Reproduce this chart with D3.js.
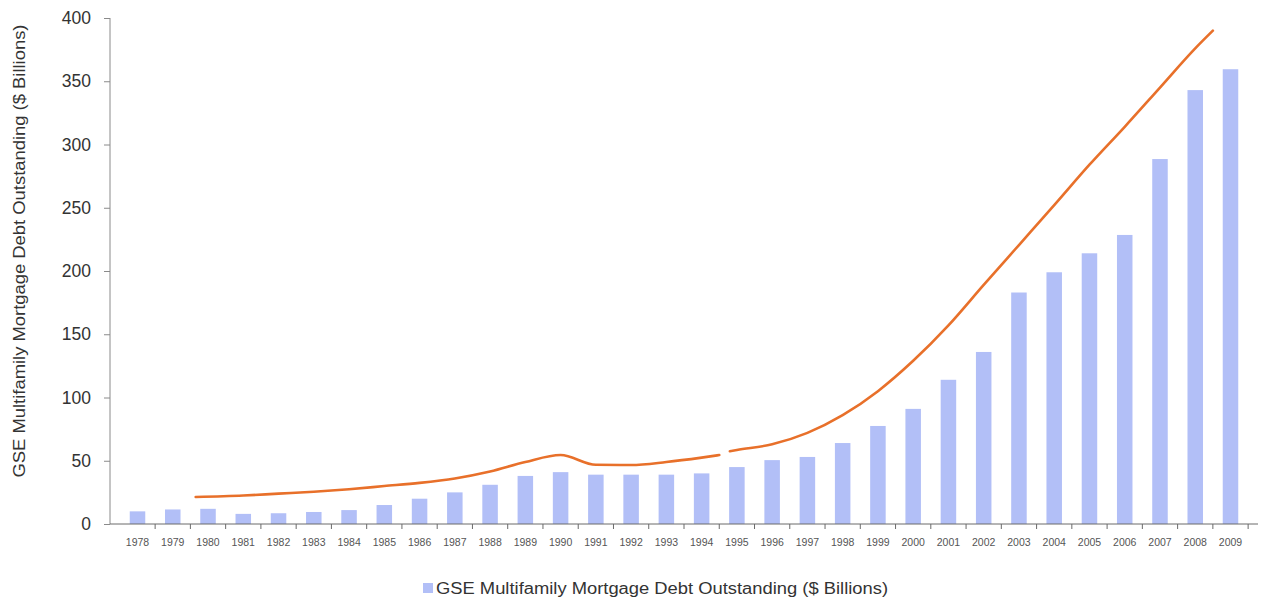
<!DOCTYPE html>
<html>
<head>
<meta charset="utf-8">
<script src="https://cdn.jsdelivr.net/npm/d3@7"></script>
<style>
  body { margin: 0; background: #fff; }
  text { font-family: "Liberation Sans", Arial, sans-serif; }
</style>
</head>
<body>
<svg id="chart" width="1263" height="601"></svg>
<script>
// bar data
const years = [1978, 1979, 1980, 1981, 1982, 1983, 1984, 1985, 1986, 1987, 1988, 1989, 1990, 1991, 1992, 1993,
  1994, 1995, 1996, 1997, 1998, 1999, 2000, 2001, 2002, 2003, 2004, 2005, 2006, 2007, 2008, 2009];
const debt = [10, 11.5, 12, 8, 8.5, 9.5, 11, 15, 20, 25, 31, 38, 41, 39, 39, 39,
  40, 45, 50.5, 53, 64, 77.5, 91, 114, 136, 183, 199, 214, 228.5, 288.5, 343, 359.5];

// trend line, two pieces (there is a small break after 1994)
const trendYears1 = [1979.65, 1981, 1982, 1983, 1984, 1985, 1986, 1987, 1988, 1989, 1990, 1991, 1992, 1993, 1994, 1994.5];
const trendValues1 = [21.3, 22.5, 24, 25.5, 27.5, 30, 32.5, 36, 41.5, 49, 54.5, 46.8, 46.6, 49, 52.5, 54.5];
const trendYears2 = [1994.8, 1995, 1996, 1997, 1998, 1999, 2000, 2001, 2002, 2003, 2004, 2005, 2006, 2007, 2008, 2008.5];
const trendValues2 = [57.5, 58.5, 63, 72, 86, 105, 129, 157, 189, 220.5, 252, 284, 314, 345, 376, 390];

const yTicks = [0, 50, 100, 150, 200, 250, 300, 350, 400];
const seriesName = 'GSE Multifamily Mortgage Debt Outstanding ($ Billions)';

const mLeft = 110;
const mRight = 1258;
const mTop = 18;
const mBottom = 524;

const svg = d3.select('#chart');

const xscale = d3.scaleBand()
  .domain(years)
  .range([mLeft, mRight])
  .padding(0.56);

const step = xscale.step();
const half = xscale.bandwidth() / 2;

// year -> centre of that year's band, for the trend line
const xcenter = d3.scaleLinear()
  .domain([years[0], years[years.length - 1]])
  .range([xscale(years[0]) + half, xscale(years[years.length - 1]) + half]);

const yscale = d3.scaleLinear()
  .domain([0, 400])
  .range([mBottom, mTop]);

// bars
svg.append('g')
  .selectAll('rect')
  .data(years)
  .enter()
  .append('rect')
  .attr('x', (d) => xscale(d))
  .attr('y', (d, i) => yscale(debt[i]))
  .attr('width', xscale.bandwidth())
  .attr('height', (d, i) => mBottom - yscale(debt[i]))
  .attr('fill', '#b2bff7');

// y axis
const leftAxis = d3.axisLeft(yscale)
  .tickValues(yTicks)
  .tickSize(6)
  .tickPadding(13);

const gy = svg.append('g')
  .attr('transform', `translate(${mLeft}, 0)`)
  .call(leftAxis);
gy.select('.domain').attr('stroke', '#8a8a8a').attr('d', `M0,${mTop}V${mBottom}`);
gy.selectAll('.tick line').attr('stroke', '#8a8a8a');
gy.selectAll('.tick text')
  .attr('font-size', 17.5)
  .attr('fill', '#333');

// x axis, ticks sit between the bands
const bottomAxis = d3.axisBottom(xscale)
  .tickSize(0)
  .tickPadding(15);

const gx = svg.append('g')
  .attr('transform', `translate(0, ${mBottom})`)
  .call(bottomAxis);
gx.select('.domain').attr('stroke', '#6a6a6a').attr('d', `M${mLeft},0H${mRight}`);
gx.selectAll('.tick text')
  .attr('font-size', 10.5)
  .attr('fill', '#555');

gx.append('g')
  .selectAll('line')
  .data(years)
  .enter()
  .append('line')
  .attr('x1', (d) => xcenter(d) + step / 2)
  .attr('x2', (d) => xcenter(d) + step / 2)
  .attr('y1', 0)
  .attr('y2', 5)
  .attr('stroke', '#6a6a6a');

// trend line
const line = d3.line()
  .x((d) => xcenter(d[0]))
  .y((d) => yscale(d[1]))
  .curve(d3.curveMonotoneX);

const pieces = [
  d3.zip(trendYears1, trendValues1),
  d3.zip(trendYears2, trendValues2)
];

svg.append('g')
  .selectAll('path')
  .data(pieces)
  .enter()
  .append('path')
  .attr('d', line)
  .attr('fill', 'none')
  .attr('stroke', '#e8702a')
  .attr('stroke-width', 2.6)
  .attr('stroke-linecap', 'round');

// y title
svg.append('text')
  .text(seriesName)
  .attr('transform', `translate(25, 251) rotate(-90)`)
  .attr('text-anchor', 'middle')
  .attr('font-size', 16)
  .attr('textLength', 453)
  .attr('lengthAdjust', 'spacingAndGlyphs')
  .attr('fill', '#333');

// legend
const legend = svg.append('g')
  .attr('transform', 'translate(423, 583)');

legend.append('rect')
  .attr('width', 10)
  .attr('height', 10)
  .attr('fill', '#b2bff7');

legend.append('text')
  .text(seriesName)
  .attr('x', 13)
  .attr('y', 11)
  .attr('font-size', 16)
  .attr('textLength', 452)
  .attr('lengthAdjust', 'spacingAndGlyphs')
  .attr('fill', '#333');
</script>
</body>
</html>
